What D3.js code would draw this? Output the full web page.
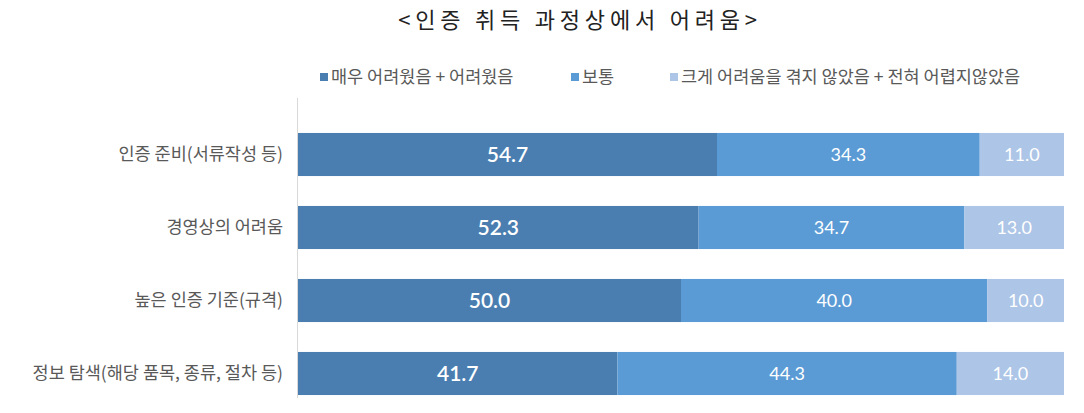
<!DOCTYPE html>
<html>
<head>
<meta charset="utf-8">
<script src="https://cdn.jsdelivr.net/npm/d3@7"></script>
<style>
  body { margin: 0; background: #fff; }
  text { font-family: "Noto Sans CJK KR", "Noto Sans", sans-serif; }
</style>
</head>
<body>
<div id="chart"></div>
<script>
var categories = ["인증 준비(서류작성 등)", "경영상의 어려움", "높은 인증 기준(규격)", "정보 탐색(해당 품목, 종류, 절차 등)"];
var seriesNames = ["매우 어려웠음 + 어려웠음", "보통", "크게 어려움을 겪지 않았음 + 전혀 어렵지않았음"];
var hard = [54.7, 52.3, 50.0, 41.7];
var normal = [34.3, 34.7, 40.0, 44.3];
var notHard = [11.0, 13.0, 10.0, 14.0];
var colors = ["#4a7eb0", "#5b9bd5", "#adc5e6"];

var width = 1084, height = 413;
var margin = {top: 118, right: 20, bottom: 3, left: 298};

var svg = d3.select("#chart").append("svg")
    .attr("width", width)
    .attr("height", height);

// Title
svg.append("text")
    .attr("x", 580).attr("y", 28)
    .attr("text-anchor", "middle")
    .attr("font-size", 22)
    .attr("letter-spacing", 4.8)
    .attr("fill", "#222")
    .text("<인증 취득 과정상에서 어려움>");

var rows = categories.map(function(c, i) {
  return {cat: c, s0: hard[i], s1: normal[i], s2: notHard[i]};
});
var stack = d3.stack().keys(["s0", "s1", "s2"])(rows);

var x = d3.scaleLinear().domain([0, 100]).range([margin.left, 1064]);
var y = d3.scaleBand().domain(categories)
    .range([margin.top, height - margin.bottom])
    .paddingInner(0.41).paddingOuter(0.205);

// axis line
svg.append("line")
    .attr("x1", margin.left - 0.5).attr("x2", margin.left - 0.5)
    .attr("y1", 98).attr("y2", 398)
    .attr("stroke", "#d9d9d9").attr("stroke-width", 1);

var layer = svg.selectAll(".layer")
    .data(stack).enter()
    .append("g")
    .attr("class", "layer")
    .attr("fill", function(d, i) { return colors[i]; });

layer.selectAll("rect")
    .data(function(d) { return d; }).enter()
    .append("rect")
    .attr("x", function(d) { return x(d[0]); })
    .attr("y", function(d) { return y(d.data.cat); })
    .attr("width", function(d) { return x(d[1]) - x(d[0]); })
    .attr("height", y.bandwidth());

layer.selectAll(".val")
    .data(function(d, i) { return d.map(function(p) { return {p: p, k: i}; }); }).enter()
    .append("text")
    .attr("class", "val")
    .attr("x", function(d) { return (x(d.p[0]) + x(d.p[1])) / 2; })
    .attr("y", function(d) { return y(d.p.data.cat) + y.bandwidth() / 2; })
    .attr("dy", "0.36em")
    .attr("text-anchor", "middle")
    .attr("fill", "#fff")
    .style("font-family", "Lato, 'Noto Sans', sans-serif")
    .attr("font-size", function(d) { return d.k === 0 ? 21 : 18; })
    .attr("font-weight", function(d) { return d.k === 0 ? 600 : 400; })
    .text(function(d) { return (d.p[1] - d.p[0]).toFixed(1); });

// category labels
var yAxis = d3.axisLeft(y).tickSize(0).tickPadding(15);
var ga = svg.append("g")
    .attr("transform", "translate(" + (margin.left) + ",0)")
    .call(yAxis);
ga.select(".domain").remove();
ga.selectAll("text")
    .attr("font-size", 17.5)
    .attr("fill", "#595959")
    .style("font-family", "'Noto Sans CJK KR', sans-serif");

// legend
var legendX = [320, 571, 670];
var lg = svg.selectAll(".legend")
    .data(seriesNames).enter()
    .append("g")
    .attr("class", "legend")
    .attr("transform", function(d, i) { return "translate(" + legendX[i] + ",77)"; });
lg.append("rect")
    .attr("x", 0).attr("y", -4)
    .attr("width", 8).attr("height", 8)
    .attr("fill", function(d, i) { return colors[i]; });
lg.append("text")
    .attr("x", 11).attr("dy", "0.35em")
    .attr("font-size", 17.5)
    .attr("fill", "#595959")
    .text(function(d) { return d; });
</script>
</body>
</html>
